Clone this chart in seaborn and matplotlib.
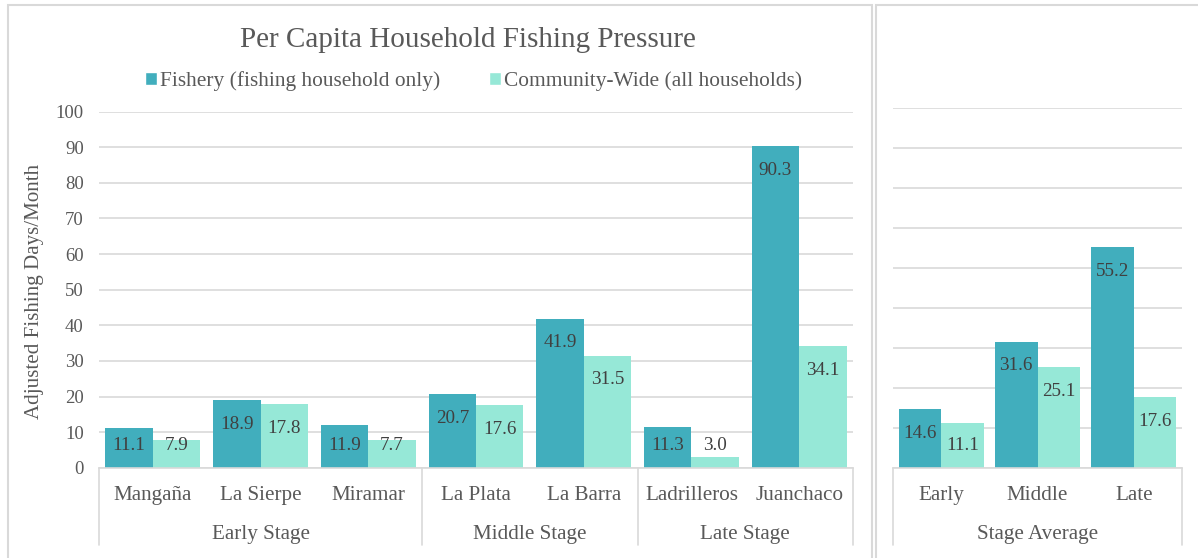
import matplotlib
matplotlib.use("Agg")
import matplotlib.pyplot as plt
import seaborn as sns
import pandas as pd
from matplotlib.patches import Patch, Rectangle
from matplotlib.transforms import blended_transform_factory

# ---------------- data ----------------
sites = ["Mangaña", "La Sierpe", "Miramar", "La Plata", "La Barra", "Ladrilleros", "Juanchaco"]
site_stage = ["Early Stage", "Early Stage", "Early Stage", "Middle Stage", "Middle Stage",
              "Late Stage", "Late Stage"]
fishery = [11.1, 18.9, 11.9, 20.7, 41.9, 11.3, 90.3]
community = [7.9, 17.8, 7.7, 17.6, 31.5, 3.0, 34.1]

stages = ["Early", "Middle", "Late"]
stage_fishery = [14.6, 31.6, 55.2]
stage_community = [11.1, 25.1, 17.6]
right_group = "Stage Average"

series = ["Fishery (fishing household only)", "Community-Wide (all households)"]
title = "Per Capita Household Fishing Pressure"
ylabel = "Adjusted Fishing Days/Month"
left_ticks = [0, 10, 20, 30, 40, 50, 60, 70, 80, 90, 100]
right_ticks = [0, 10, 20, 30, 40, 50, 60, 70, 80, 90]

# ---------------- style ----------------
C_FISH = "#41AEBD"
C_COMM = "#96E8D7"
GRID = "#d9d9d9"
TXT = "#595959"
LBL = "#404040"

sns.set_theme(style="white")
plt.rcParams["font.family"] = ["Liberation Serif", "DejaVu Serif"]

W, H, DPI = 1198, 558, 100
fig = plt.figure(figsize=(W / DPI, H / DPI), dpi=DPI)
fig.patch.set_facecolor("white")


def fx(px):
    return px / W


def fy(py):
    return 1 - py / H


def make_axes(x0, x1, ytop, ybot):
    return fig.add_axes([fx(x0), fy(ybot), (x1 - x0) / W, (ybot - ytop) / H])


axL = make_axes(99, 853, 111.7, 467.7)
axR = make_axes(893, 1182, 108.3, 467.7)

dfL = pd.DataFrame({
    "cat": sites * 2,
    "value": fishery + community,
    "series": [series[0]] * len(sites) + [series[1]] * len(sites),
})
dfR = pd.DataFrame({
    "cat": stages * 2,
    "value": stage_fishery + stage_community,
    "series": [series[0]] * len(stages) + [series[1]] * len(stages),
})


def draw(ax, df, cats, ticks, groups, group_names):
    sns.barplot(data=df, x="cat", y="value", hue="series", hue_order=series,
                order=cats, palette=[C_FISH, C_COMM], saturation=1, width=0.88,
                gap=0, errorbar=None, legend=False, ax=ax, linewidth=0)
    ax.set_xlim(-0.5, len(cats) - 0.5)
    ax.set_ylim(ticks[0], ticks[-1])
    ax.set_yticks(ticks)
    ax.set_axisbelow(True)
    ax.yaxis.grid(True, color=GRID, lw=1.2)
    ax.xaxis.grid(False)
    for s in ["top", "right", "left"]:
        ax.spines[s].set_visible(False)
    ax.spines["bottom"].set_color(GRID)
    ax.spines["bottom"].set_linewidth(1.2)
    ax.set_xlabel("")
    ax.set_ylabel("")
    ax.tick_params(axis="x", length=0, pad=13, labelsize=15.2, labelcolor=TXT)
    ax.tick_params(axis="y", length=0, pad=11, labelsize=13.5, labelcolor=TXT)
    ax.set_facecolor("white")

    # data labels
    ppu = ax.bbox.height / (ticks[-1] - ticks[0])
    for cont in ax.containers:
        for bar in cont:
            v = bar.get_height()
            xc = bar.get_x() + bar.get_width() / 2
            yc = max(v - 24 / ppu, 22 / ppu)
            ax.text(xc, yc, f"{v:.1f}", ha="center", va="center",
                    fontsize=13.8, color=LBL)

    # multi-level category axis
    tr = blended_transform_factory(ax.transData, fig.transFigure)
    bounds = [-0.5]
    start = 0
    for g in groups:
        bounds.append(start + g - 0.5)
        start += g
    for b in bounds:
        ax.plot([b, b], [fy(467.7), fy(545)], transform=tr, color=GRID,
                lw=1.2, clip_on=False)
    start = 0
    for g, name in zip(groups, group_names):
        xc = start + (g - 1) / 2
        ax.text(xc, fy(539.5), name, transform=tr, ha="center", va="baseline",
                fontsize=15.2, color=TXT)
        start += g


# group sizes from the stage list
names = []
sizes = []
for s in site_stage:
    if names and names[-1] == s:
        sizes[-1] += 1
    else:
        names.append(s)
        sizes.append(1)

draw(axL, dfL, sites, left_ticks, sizes, names)
draw(axR, dfR, stages, right_ticks, [len(stages)], [right_group])
axR.set_yticklabels([])

# chart borders
fig.add_artist(Rectangle((fx(8), fy(575)), (872 - 8) / W, (575 - 5) / H,
                         transform=fig.transFigure, fill=False, edgecolor=GRID, lw=1.5))
fig.add_artist(Rectangle((fx(876), fy(575)), (1210 - 876) / W, (575 - 5) / H,
                         transform=fig.transFigure, fill=False, edgecolor=GRID, lw=1.5))

# title, legend, y label
fig.text(fx(467.5), fy(47), title, ha="center", va="baseline", fontsize=21, color=TXT)
handles = [Patch(facecolor=C_FISH, label=series[0]), Patch(facecolor=C_COMM, label=series[1])]
fig.legend(handles=handles, loc="center", bbox_to_anchor=(fx(473.5), fy(81)), ncol=2,
           frameon=False, handlelength=0.55, handleheight=0.55, handletextpad=0.15,
           columnspacing=2.3, fontsize=15.4, labelcolor=TXT, borderaxespad=0, borderpad=0)
fig.text(fx(35), fy(291), ylabel, rotation=90, ha="center", va="center",
         fontsize=15.1, color=TXT)

fig.savefig("out.png", dpi=DPI, facecolor="white")
